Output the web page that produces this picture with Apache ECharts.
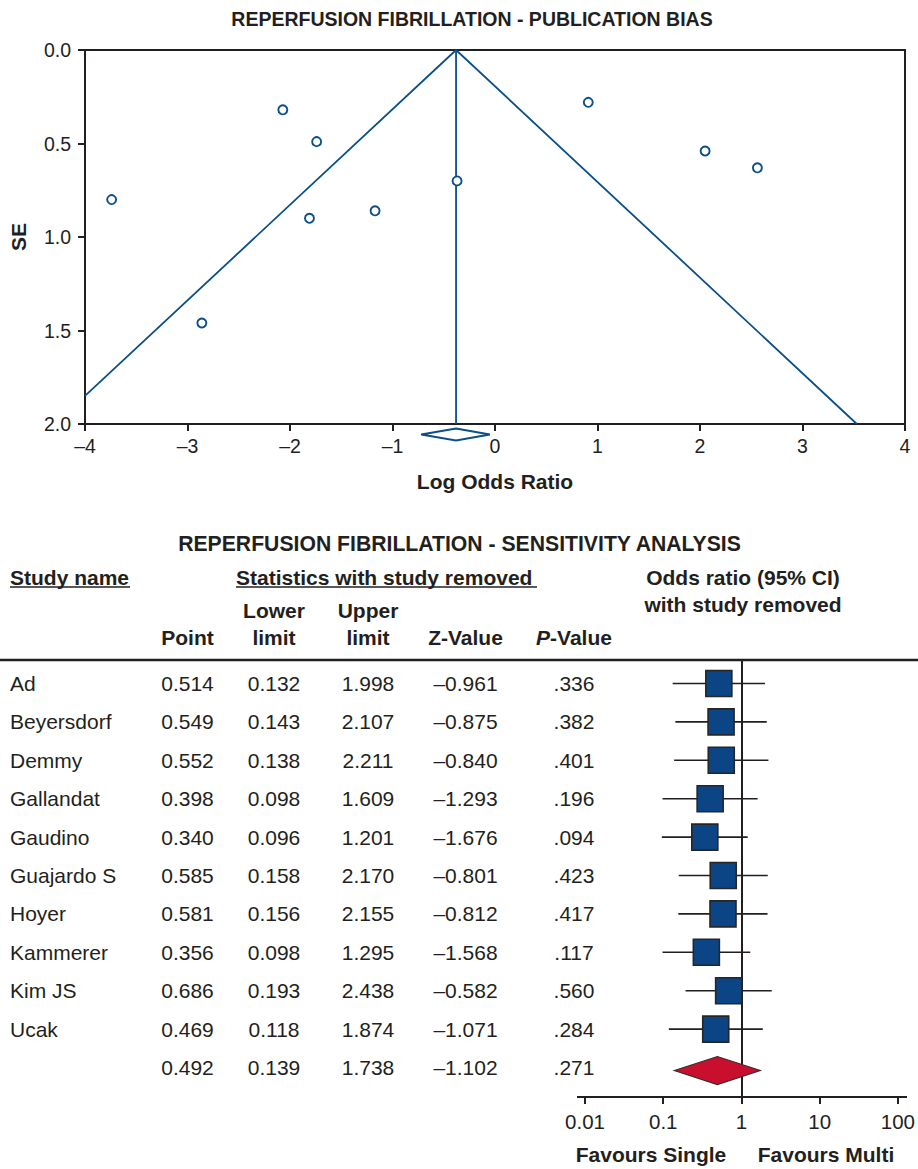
<!DOCTYPE html>
<html><head><meta charset="utf-8">
<script src="https://cdn.jsdelivr.net/npm/echarts@6/dist/echarts.min.js"></script>
<style>html,body{margin:0;padding:0;background:#fff}#c{width:918px;height:1169px}</style>
</head><body><div id="c"></div>
<script>
const FONT = "'Liberation Sans', Arial, Helvetica, sans-serif";
const INK = '#231f20';
const BLUE = '#0b4f8a';

// ---- Funnel plot (publication bias) ----
const funnelLogOR = [-3.74, -2.86, -2.07, -1.74, -1.81, -1.17, -0.37, 0.91, 2.05, 2.56];
const funnelSE    = [0.80, 1.46, 0.32, 0.49, 0.90, 0.86, 0.70, 0.28, 0.54, 0.63];
const funnelLimitX  = [-4, -0.38, 3.53];
const funnelLimitSE = [1.85, 0, 2];
const pooledLogOR = -0.38;
const pooledLogORRange = [-0.72, -0.05];
const funnelXTicks = ['\u20134', '\u20133', '\u20132', '\u20131', '0', '1', '2', '3', '4'];
const funnelYTicks = ['0.0', '0.5', '1.0', '1.5', '2.0'];

// ---- Sensitivity analysis (one study removed) ----
const studyNames = ['Ad', 'Beyersdorf', 'Demmy', 'Gallandat', 'Gaudino', 'Guajardo S', 'Hoyer', 'Kammerer', 'Kim JS', 'Ucak', ''];
const pointVals = [0.514, 0.549, 0.552, 0.398, 0.340, 0.585, 0.581, 0.356, 0.686, 0.469, 0.492];
const lowerVals = [0.132, 0.143, 0.138, 0.098, 0.096, 0.158, 0.156, 0.098, 0.193, 0.118, 0.139];
const upperVals = [1.998, 2.107, 2.211, 1.609, 1.201, 2.170, 2.155, 1.295, 2.438, 1.874, 1.738];
const zVals     = [-0.961, -0.875, -0.840, -1.293, -1.676, -0.801, -0.812, -1.568, -0.582, -1.071, -1.102];
const pVals     = [0.336, 0.382, 0.401, 0.196, 0.094, 0.423, 0.417, 0.117, 0.560, 0.284, 0.271];
const forestTicks = ['0.01', '0.1', '1', '10', '100'];

const fmt3 = v => (v < 0 ? '\u2013' : '') + Math.abs(v).toFixed(3);
const fmtP = v => v.toFixed(3).replace(/^0/, '');

const chart = echarts.init(document.getElementById('c'), null, {renderer: 'svg', width: 918, height: 1169});

function txt(text, x, y, opt) {
  opt = opt || {};
  const a = opt.align || 'center';
  return {
    type: 'text', x: x, y: y, silent: true,
    style: Object.assign({
      text: text, font: (opt.bold ? 'bold ' : '') + (opt.size || 21) + 'px ' + FONT,
      fill: INK, textAlign: a, align: a, textVerticalAlign: 'middle', verticalAlign: 'middle'
    }, opt.rich ? {rich: opt.rich} : {})
  };
}
function hline(x1, x2, y, w) {
  return {type: 'line', silent: true, shape: {x1: x1, y1: y, x2: x2, y2: y}, style: {stroke: INK, lineWidth: w}};
}

const rowIdx = studyNames.map((_, i) => i);
const colCenters = {point: 187.5, lower: 274, upper: 368, z: 465.5, p: 574};

const option = {
  animation: false,
  backgroundColor: '#fff',
  textStyle: {fontFamily: FONT, color: INK},
  grid: [
    {left: 84, top: 50, width: 821, height: 374, show: true, borderColor: INK, borderWidth: 2, backgroundColor: 'transparent'},
    {left: 585, top: 660, width: 313.3, height: 437},
    {left: 0, top: 660, width: 918, height: 437}
  ],
  xAxis: [
    {gridIndex: 0, type: 'value', min: -4, max: 4, interval: 1,
      axisLine: {onZero: false, lineStyle: {color: INK, width: 2}},
      axisTick: {inside: false, length: 7, lineStyle: {color: INK, width: 2}},
      axisLabel: {color: INK, fontSize: 19.5, fontFamily: FONT, margin: 12,
        formatter: v => funnelXTicks[Math.round(v) + 4]},
      splitLine: {show: false},
      name: 'Log Odds Ratio', nameLocation: 'middle', nameGap: 47,
      nameTextStyle: {color: INK, fontSize: 21, fontWeight: 'bold', fontFamily: FONT}},
    {gridIndex: 1, type: 'log', logBase: 10, min: 0.01, max: 100,
      axisLine: {onZero: false, lineStyle: {color: INK, width: 2}},
      axisTick: {inside: false, length: 7, lineStyle: {color: INK, width: 2}},
      axisLabel: {color: INK, fontSize: 20.5, fontFamily: FONT, margin: 14,
        formatter: v => forestTicks[Math.round(Math.log10(v)) + 2]},
      splitLine: {show: false}, minorTick: {show: false}},
    {gridIndex: 2, type: 'value', min: 0, max: 918, show: false}
  ],
  yAxis: [
    {gridIndex: 0, type: 'value', min: 0, max: 2, interval: 0.5, inverse: true,
      axisLine: {onZero: false, lineStyle: {color: INK, width: 2}},
      axisTick: {inside: false, length: 7, lineStyle: {color: INK, width: 2}},
      axisLabel: {color: INK, fontSize: 19.5, fontFamily: FONT, margin: 14,
        formatter: v => funnelYTicks[Math.round(v * 2)]},
      splitLine: {show: false},
      name: 'SE', nameLocation: 'middle', nameGap: 56, nameRotate: 90,
      nameTextStyle: {color: INK, fontSize: 21, fontWeight: 'bold', fontFamily: FONT}},
    {gridIndex: 1, type: 'value', min: -0.612, max: 10.768, inverse: true, show: false},
    {gridIndex: 2, type: 'value', min: -0.612, max: 10.768, inverse: true, show: false}
  ],
  series: [
    {type: 'line', xAxisIndex: 0, yAxisIndex: 0, symbol: 'none', z: 2,
      lineStyle: {color: BLUE, width: 1.8},
      data: funnelLimitX.map((x, i) => [x, funnelLimitSE[i]])},
    {type: 'line', xAxisIndex: 0, yAxisIndex: 0, symbol: 'none', z: 2,
      lineStyle: {color: BLUE, width: 1.8},
      data: [[pooledLogOR, 0], [pooledLogOR, 2]]},
    {type: 'scatter', xAxisIndex: 0, yAxisIndex: 0, symbol: 'circle', symbolSize: 9, z: 3,
      itemStyle: {color: '#fff', borderColor: BLUE, borderWidth: 1.9, opacity: 1},
      data: funnelLogOR.map((x, i) => [x, funnelSE[i]])},
    {type: 'custom', xAxisIndex: 0, yAxisIndex: 0, clip: false, z: 4,
      data: [[pooledLogORRange[0], pooledLogOR, pooledLogORRange[1]]],
      encode: {x: [0, 1, 2]},
      renderItem: function (params, api) {
        const l = api.coord([api.value(0), 2]);
        const c = api.coord([api.value(1), 2]);
        const r = api.coord([api.value(2), 2]);
        const yc = l[1] + 10.5;
        return {type: 'polygon', shape: {points: [[l[0], yc], [c[0], yc - 6], [r[0], yc], [c[0], yc + 6]]},
          style: {fill: '#fff', stroke: BLUE, lineWidth: 2}};
      }},
    // forest plot
    {type: 'custom', xAxisIndex: 1, yAxisIndex: 1, clip: false, z: 3,
      dimensions: ['row', 'point', 'lower', 'upper'],
      encode: {x: [1, 2, 3], y: 0},
      data: rowIdx.map(i => [i, pointVals[i], lowerVals[i], upperVals[i]]),
      renderItem: function (params, api) {
        const i = api.value(0);
        const pP = api.coord([api.value(1), i]);
        const pL = api.coord([api.value(2), i]);
        const pH = api.coord([api.value(3), i]);
        if (studyNames[i] === '') {
          return {type: 'polygon', shape: {points: [[pL[0], pP[1] + 3], [pP[0], pP[1] - 11], [pH[0], pP[1] + 3], [pP[0], pP[1] + 17]]},
            style: {fill: '#c8102e', stroke: '#3a2a2a', lineWidth: 1.2}};
        }
        return {type: 'group', children: [
          {type: 'line', shape: {x1: pL[0], y1: pP[1], x2: pH[0], y2: pP[1]}, style: {stroke: INK, lineWidth: 1.6}},
          {type: 'rect', shape: {x: pP[0] - 13, y: pP[1] - 13, width: 26, height: 26},
            style: {fill: '#0b4585', stroke: '#262626', lineWidth: 1.6}}
        ]};
      },
      markLine: {silent: true, symbol: ['none', 'none'], label: {show: false}, z: 2,
        lineStyle: {color: INK, width: 2, type: 'solid'}, data: [{xAxis: 1}]}},
    // table text
    {type: 'custom', xAxisIndex: 2, yAxisIndex: 2, clip: false, z: 3,
      data: rowIdx.map(i => [i]),
      encode: {y: 0},
      renderItem: function (params, api) {
        const i = api.value(0);
        const y = api.coord([0, i])[1];
        const cx = k => api.coord([colCenters[k], i])[0];
        const t = (s, x, a) => ({type: 'text', x: x, y: y,
          style: {text: s, font: '21px ' + FONT, fill: INK, textAlign: a, align: a, textVerticalAlign: 'middle', verticalAlign: 'middle'}});
        return {type: 'group', children: [
          t(studyNames[i], api.coord([10, i])[0], 'left'),
          t(pointVals[i].toFixed(3), cx('point'), 'center'),
          t(lowerVals[i].toFixed(3), cx('lower'), 'center'),
          t(upperVals[i].toFixed(3), cx('upper'), 'center'),
          t(fmt3(zVals[i]), cx('z'), 'center'),
          t(fmtP(pVals[i]), cx('p'), 'center')
        ]};
      }}
  ],
  graphic: [
    txt('REPERFUSION FIBRILLATION - PUBLICATION BIAS', 472, 18.5, {bold: true, size: 19.5}),
    txt('REPERFUSION FIBRILLATION - SENSITIVITY ANALYSIS', 459.5, 543, {bold: true, size: 21.2}),
    txt('Study name', 10, 577, {bold: true, align: 'left'}),
    hline(10, 130, 587, 1.6),
    txt('Statistics with study removed', 236, 577, {bold: true, align: 'left'}),
    hline(236, 537, 587, 1.6),
    txt('Odds ratio (95% CI)', 743, 577, {bold: true}),
    txt('with study removed', 743, 604, {bold: true}),
    txt('Lower', colCenters.lower, 610, {bold: true}),
    txt('Upper', colCenters.upper, 610, {bold: true}),
    txt('Point', colCenters.point, 637, {bold: true}),
    txt('limit', colCenters.lower, 637, {bold: true}),
    txt('limit', colCenters.upper, 637, {bold: true}),
    txt('Z-Value', colCenters.z, 637, {bold: true}),
    txt('{i|P}-Value', colCenters.p, 637, {bold: true,
      rich: {i: {fontStyle: 'italic', fontWeight: 'bold', fontSize: 21, fontFamily: FONT, fill: INK, color: INK}}}),
    hline(0, 918, 660, 2.6),
    hline(577, 907, 1097, 2),
    txt('Favours Single', 651, 1154, {bold: true}),
    txt('Favours Multi', 826, 1154, {bold: true})
  ]
};
chart.setOption(option);
</script>
</body></html>
